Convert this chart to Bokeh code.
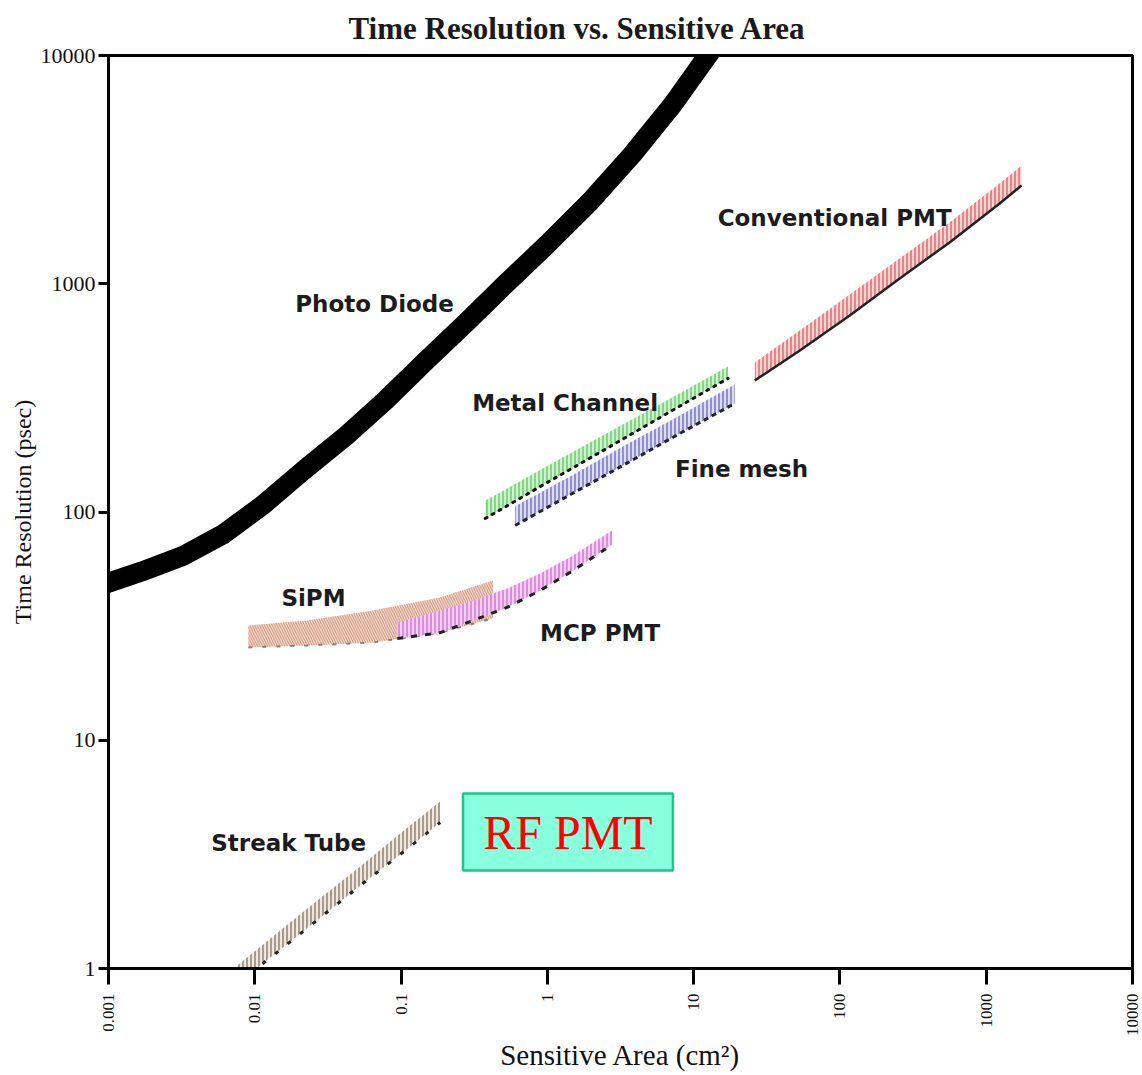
import math
from bokeh.plotting import figure
from bokeh.models import FixedTicker, CustomJSTickFormatter
from bokeh.core.properties import value
from bokeh.embed import file_html
from bokeh.resources import INLINE

# ---- axis ticks ----
x_ticks = [0.001, 0.01, 0.1, 1, 10, 100, 1000, 10000]
x_tick_labels = ["0.001", "0.01", "0.1", "1", "10", "100", "1000", "10000"]
y_ticks = [1, 10, 100, 1000, 10000]
y_tick_labels = ["1", "10", "100", "1000", "10000"]

# ---- Photo Diode (centre of the thick black band) ----
pd_area = [0.001, 0.0017, 0.0032, 0.0061, 0.0113, 0.0215, 0.0415, 0.078, 0.146,
           0.279, 0.52, 1.0, 1.96, 3.8, 7.2, 12.9]
pd_time = [49, 55, 64, 80, 107, 152, 214, 308, 456, 677, 1000, 1490, 2290, 3680,
           6100, 10300]

# ---- Conventional PMT band ----
pmt_area = [26.2, 53.2, 116.7, 256, 562, 1235, 1745]
pmt_hi = [452, 624, 897, 1290, 1855, 2750, 3297]
pmt_lo = [377, 510, 726, 1055, 1517, 2248, 2695]

# ---- Metal Channel band ----
mc_area = [0.376, 0.965, 2.48, 6.37, 17.2]
mc_hi = [112, 157, 219, 305, 434]
mc_lo = [93.6, 133, 188, 267, 385]

# ---- Fine mesh band ----
fm_area = [0.602, 1.43, 3.40, 8.06, 19.1]
fm_hi = [106, 143, 196, 265, 362]
fm_lo = [87.3, 119, 162, 221, 299]

# ---- SiPM band ----
sipm_area = [0.00904, 0.0229, 0.0645, 0.185, 0.426]
sipm_hi = [31.8, 33.5, 37.0, 42.2, 50.1]
sipm_lo = [25.5, 26.0, 26.8, 29.6, 34.2]

# ---- MCP PMT band ----
mcp_area = [0.0941, 0.185, 0.311, 0.531, 0.892, 1.50, 2.77]
mcp_hi = [32.8, 37.0, 41.0, 46.2, 53.8, 64.5, 83.0]
mcp_lo = [27.9, 29.6, 33.5, 38.2, 45.3, 55.4, 72.0]

# ---- Streak Tube band ----
st_area = [0.0076, 0.0150, 0.0280, 0.0526, 0.0986, 0.185]
st_hi = [1.03, 1.47, 2.03, 2.80, 3.90, 5.39]
st_lo = [0.86, 1.21, 1.67, 2.31, 3.16, 4.36]

# ---- series labels ----
label_text = ["Photo Diode", "Conventional PMT", "Metal Channel", "Fine mesh",
              "SiPM", "MCP PMT", "Streak Tube"]
label_area = [0.0189, 14.6, 0.306, 7.45, 0.0152, 0.891, 0.00504]
label_time = [819, 1950, 299, 155, 41.8, 29.4, 3.53]

# ---- RF PMT box ----
rf_text = ["RF PMT"]
rf_left, rf_right = [0.265], [7.22]
rf_bottom, rf_top = [2.69], [5.84]
rf_x, rf_y = [1.383], [3.96]

p = figure(width=1142, height=1075, x_axis_type="log", y_axis_type="log",
           x_range=(0.001, 10000), y_range=(1, 10000),
           output_backend="svg", toolbar_location=None,
           min_border_left=108, min_border_right=10, min_border_top=55,
           min_border_bottom=107)

p.title.text = "Time Resolution vs. Sensitive Area"
p.title.align = "left"
p.title.offset = 240
p.title.vertical_align = "top"
p.title.text_font = "Liberation Serif"
p.title.text_font_size = "31px"
p.title.text_font_style = "bold"
p.title.text_color = "#1a1a1a"
p.title.standoff = 16

fmt_js = """
for (let i = 0; i < tvals.length; i++) {
  if (Math.abs(Math.log10(tick) - Math.log10(tvals[i])) < 1e-6) return tlabs[i];
}
return '';
"""
p.xaxis.ticker = FixedTicker(ticks=x_ticks)
p.xaxis.formatter = CustomJSTickFormatter(args=dict(tvals=x_ticks, tlabs=x_tick_labels), code=fmt_js)
p.yaxis.ticker = FixedTicker(ticks=y_ticks)
p.yaxis.formatter = CustomJSTickFormatter(args=dict(tvals=y_ticks, tlabs=y_tick_labels), code=fmt_js)

for ax in (p.xaxis, p.yaxis):
    ax.axis_line_width = 3
    ax.axis_line_color = "black"
    ax.major_tick_line_width = 3
    ax.major_tick_line_color = "black"
    ax.major_tick_in = 0
    ax.minor_tick_in = 0
    ax.minor_tick_out = 0
    ax.major_label_text_font = "Liberation Serif"
    ax.major_label_text_color = "#111111"
    ax.axis_label_text_font = "Liberation Serif"
    ax.axis_label_text_font_style = "normal"
    ax.axis_label_text_color = "#111111"

p.xaxis.major_tick_out = 16
p.xaxis.major_label_orientation = math.pi / 2
p.xaxis.major_label_text_font_size = "17px"
p.xaxis.major_label_standoff = 9
p.xaxis.axis_label = "Sensitive Area (cm²)"
p.xaxis.axis_label_text_font_size = "29px"
p.xaxis.axis_label_standoff = 0

p.yaxis.major_tick_out = 10
p.yaxis.major_label_text_font_size = "22px"
p.yaxis.major_label_standoff = 3
p.yaxis.axis_label = "Time Resolution (psec)"
p.yaxis.axis_label_text_font_size = "24px"
p.yaxis.axis_label_standoff = 2

p.grid.visible = False
p.outline_line_color = "black"
p.outline_line_width = 3
p.background_fill_color = "white"
p.border_fill_color = "white"

# bands
p.varea(x=pmt_area, y1=pmt_lo, y2=pmt_hi, fill_color="#f8d4d4",
        hatch_pattern="|", hatch_color="#e06a6a", hatch_scale=4, hatch_weight=1.5)
p.line(pmt_area, pmt_lo, line_color="#222222", line_width=2.5)

p.varea(x=mc_area, y1=mc_lo, y2=mc_hi, fill_color="#cef2ce",
        hatch_pattern="|", hatch_color="#6acc6a", hatch_scale=4, hatch_weight=1.5)
p.varea(x=fm_area, y1=fm_lo, y2=fm_hi, fill_color="#dcdcf5",
        hatch_pattern="|", hatch_color="#7676c4", hatch_scale=4, hatch_weight=1.5)
p.line(mc_area, mc_lo, line_color="#111111", line_width=3, line_dash="2 6", line_cap="round")
p.line(fm_area, fm_lo, line_color="#222233", line_width=3, line_dash="5 4")

p.varea(x=sipm_area, y1=sipm_lo, y2=sipm_hi, fill_color="#f8e0d2",
        hatch_pattern="\\", hatch_color="#d7a08c", hatch_scale=5, hatch_weight=1.3)
p.line(sipm_area, sipm_lo, line_color="#444444", line_width=2, line_dash="4 10", line_alpha=0.6)
p.varea(x=mcp_area, y1=mcp_lo, y2=mcp_hi, fill_color="#f5d0f5",
        hatch_pattern="|", hatch_color="#d676d6", hatch_scale=4, hatch_weight=1.5)
p.line(mcp_area, mcp_lo, line_color="#222222", line_width=3, line_dash="6 8")

p.varea(x=st_area, y1=st_lo, y2=st_hi, fill_color="#eee8de",
        hatch_pattern="|", hatch_color="#8a7a68", hatch_scale=4, hatch_weight=1.4)
p.line(st_area, st_lo, line_color="#222222", line_width=3, line_dash="4 12")

# photo diode
p.line(pd_area, pd_time, line_color="black", line_width=20,
       line_join="round", line_cap="round")

# labels
p.text(x=label_area, y=label_time, text=label_text,
       text_font=value("DejaVu Sans"), text_font_style="bold",
       text_font_size="23px", text_color="#1c1c1c",
       text_align="left", text_baseline="middle")

# RF PMT box
p.quad(left=rf_left, right=rf_right, bottom=rf_bottom, top=rf_top,
       fill_color="#88ffdd", line_color="#22c38e", line_width=2.5)
p.text(x=rf_x, y=rf_y, text=rf_text, text_color="#ff0000",
       text_font=value("Liberation Serif"), text_font_size="48px",
       text_align="center", text_baseline="middle")

open("out.html", "w").write(file_html(p, INLINE))
